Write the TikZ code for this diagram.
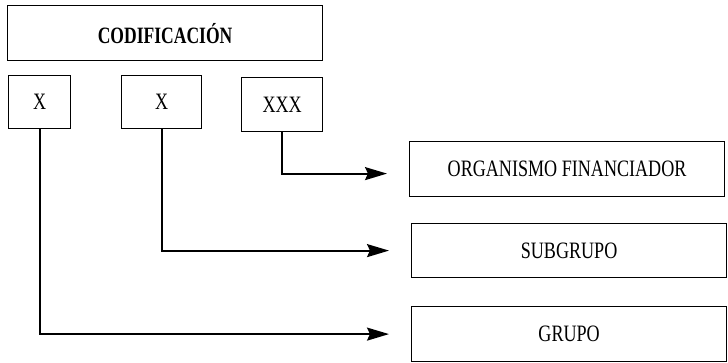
\documentclass[tikz,border=0pt]{standalone}
\usepackage{fontspec}
\setmainfont{Liberation Serif}
\newfontfamily\cond[FakeStretch=0.77]{Liberation Serif}
\newfontfamily\condb[FakeStretch=0.75]{Liberation Serif}
\usetikzlibrary{arrows.meta}
\tikzset{
  box/.style={draw, line width=1.2pt, inner sep=0pt, anchor=north west, font=\cond\fontsize{23.5}{23.5}\selectfont},
  conn/.style={line width=2pt, -{Stealth[length=22pt,width=13pt,inset=3pt]}, shorten >=22pt},
}
\begin{document}
\begin{tikzpicture}[x=1pt,y=-1pt]
\useasboundingbox (0,0) rectangle (728,362);
\node[box, minimum width=315pt, minimum height=55pt, font=\condb\bfseries\fontsize{23.4}{23.4}\selectfont] (cod) at (7,5) {CODIFICACIÓN};
\node[box, minimum width=62pt, minimum height=53pt] (x1) at (8,75) {X};
\node[box, minimum width=80pt, minimum height=53pt] (x2) at (121,75) {X};
\node[box, minimum width=81pt, minimum height=54pt] (x3) at (241,77) {XXX};
\node[box, minimum width=315pt, minimum height=55pt] (org) at (409,141) {ORGANISMO FINANCIADOR};
\node[box, minimum width=315pt, minimum height=54pt] (sub) at (411,223) {SUBGRUPO};
\node[box, minimum width=315pt, minimum height=55pt] (gru) at (411,306) {GRUPO};
\draw[conn] (x3.south) |- ([yshift=-4.5pt]org.west);
\draw[conn] (x2.south) |- (sub.west);
\draw[conn] (x1.south) |- (gru.west);
\end{tikzpicture}
\end{document}
